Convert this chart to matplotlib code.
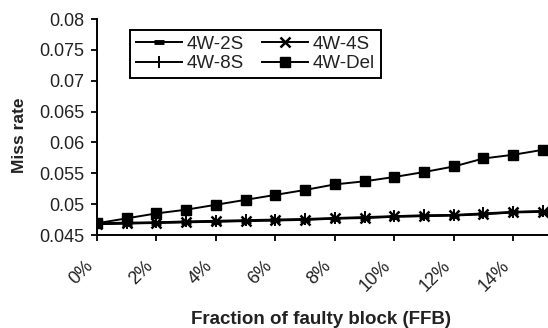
import matplotlib
matplotlib.use("Agg")
import matplotlib.pyplot as plt
import matplotlib.ticker as mticker
import matplotlib.transforms as mtransforms

plt.rcParams['font.family'] = ['Liberation Sans', 'DejaVu Sans']
plt.rcParams['font.size'] = 13.5

# fraction of faulty blocks, 0% .. 15%
ffb = list(range(16))
tick_pos = [0, 2, 4, 6, 8, 10, 12, 14]
tick_labels = ['0%', '2%', '4%', '6%', '8%', '10%', '12%', '14%']

miss_2s = [0.04675, 0.04685, 0.04695, 0.04705, 0.04715, 0.04725, 0.04735, 0.04745,
           0.04765, 0.04775, 0.04795, 0.04805, 0.04815, 0.04835, 0.04865, 0.04875]
miss_4s = [0.0468, 0.0469, 0.0470, 0.0471, 0.0472, 0.0473, 0.0474, 0.0475,
           0.0477, 0.0478, 0.0480, 0.0481, 0.0482, 0.0484, 0.0487, 0.0488]
miss_8s = [0.0469, 0.0470, 0.04705, 0.0472, 0.0473, 0.0474, 0.0475, 0.0476,
           0.04775, 0.0479, 0.04805, 0.0482, 0.04825, 0.0485, 0.04875, 0.0489]
miss_del = [0.0469, 0.0477, 0.0485, 0.0491, 0.0499, 0.0507, 0.0515, 0.0523,
            0.0532, 0.0537, 0.0544, 0.0552, 0.0561, 0.0574, 0.0580, 0.0588]

fig = plt.figure(figsize=(5.48, 3.28), dpi=100)
ax = fig.add_axes([97 / 548, 1 - 235 / 328, 451 / 548, 216 / 328])

lw = 1.4
l2, = ax.plot(ffb, miss_2s, color='black', lw=lw, marker='_', ms=7, mew=3.5, label='4W-2S')
l4, = ax.plot(ffb, miss_4s, color='black', lw=lw, marker='x', ms=6.5, mew=1.8, label='4W-4S')
l8, = ax.plot(ffb, miss_8s, color='black', lw=lw, marker='|', ms=8, mew=1.4, label='4W-8S')
ld, = ax.plot(ffb, miss_del, color='black', lw=lw, marker='s', ms=7, label='4W-Del')

ax.set_xlim(0, 15.17)
ax.set_ylim(0.045, 0.08)
ax.set_yticks([0.045, 0.05, 0.055, 0.06, 0.065, 0.07, 0.075, 0.08])
ax.yaxis.set_major_formatter(mticker.FuncFormatter(lambda v, p: '%g' % round(v, 4)))
ax.set_xticks(tick_pos)
ax.set_xticklabels(tick_labels, rotation=45, ha='right', va='top', rotation_mode='anchor')

ax.tick_params(axis='both', direction='out', length=4, width=1.3, colors='black', labelsize=13)
ax.tick_params(axis='x', pad=12)
ax.tick_params(axis='y', pad=5)

# shift the slanted labels left, after tick_params (which resets transforms)
offset = mtransforms.ScaledTranslation(-12 / 100, 0, fig.dpi_scale_trans)
for lab in ax.get_xticklabels():
    lab.set_transform(lab.get_transform() + offset)
for lab in ax.get_xticklabels() + ax.get_yticklabels():
    lab.set_color('#222222')

for side in ['top', 'right']:
    ax.spines[side].set_visible(False)
for side in ['left', 'bottom']:
    ax.spines[side].set_linewidth(1.4)

ax.set_xlabel('Fraction of faulty block (FFB)', fontweight='bold', color='#222222')
ax.set_ylabel('Miss rate', fontweight='bold', color='#222222', fontsize=12.5)
ax.xaxis.set_label_coords(0.497, -0.352)
ax.yaxis.set_label_coords(-0.155, 0.46)

# Excel fills the legend row by row
leg = ax.legend([l2, l8, l4, ld], ['4W-2S', '4W-8S', '4W-4S', '4W-Del'], ncol=2,
                loc='upper left', bbox_to_anchor=(130 / 548, 1 - 30 / 328),
                bbox_transform=fig.transFigure, borderaxespad=0, handlelength=2.45,
                handletextpad=0.28, columnspacing=0.95, borderpad=0.3, labelspacing=0.12,
                fancybox=False, framealpha=1)
leg.get_frame().set_edgecolor('black')
leg.get_frame().set_linewidth(1.4)
for t in leg.get_texts():
    t.set_color('#222222')

fig.savefig('out.png', dpi=100)
